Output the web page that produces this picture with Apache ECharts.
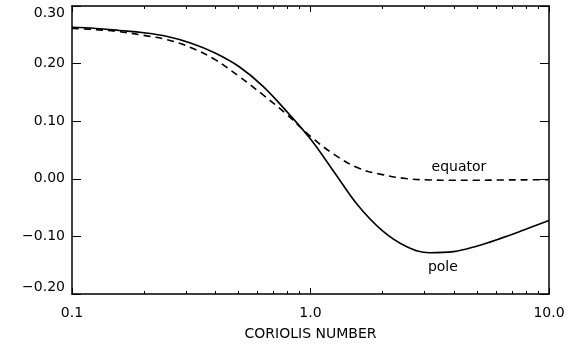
<!DOCTYPE html>
<html>
<head>
<meta charset="utf-8">
<script src="https://cdn.jsdelivr.net/npm/echarts@6/dist/echarts.min.js"></script>
<style>
  html, body { margin: 0; padding: 0; background: #fff; }
  #chart { width: 576px; height: 346px; }
</style>
</head>
<body>
<div id="chart"></div>
<script>
// Coriolis number, sampled at ten points per decade (log scale)
const coriolis = [0.1, 0.126, 0.158, 0.2, 0.251, 0.316, 0.398, 0.501, 0.631, 0.794,
                  1.0, 1.26, 1.58, 2.0, 2.51, 3.16, 3.98, 5.01, 6.31, 7.94, 10.0];
// Profile at the pole (solid)
const pole = [0.263, 0.261, 0.2575, 0.2535, 0.247, 0.2355, 0.2185, 0.195, 0.161, 0.117,
              0.069, 0.011, -0.046, -0.090, -0.117, -0.1285, -0.1265, -0.1165, -0.103, -0.088, -0.0725];
// Profile at the equator (dashed)
const equator = [0.261, 0.259, 0.2555, 0.249, 0.2415, 0.2275, 0.207, 0.178, 0.146, 0.112,
                 0.0736, 0.042, 0.019, 0.0073, 0.0005, -0.002, -0.0025, -0.0025, -0.002, -0.0018, -0.0015];

// Axis ticks
const xMajorTicks = [0.1, 1, 10];
const xMinorTicks = [0.2, 0.3, 0.4, 0.5, 0.6, 0.7, 0.8, 0.9, 2, 3, 4, 5, 6, 7, 8, 9];
const xTitle = 'CORIOLIS NUMBER';
const seriesNames = ['pole', 'equator'];

const font = 'DejaVu Sans';
const black = '#000';

function pairs(xs, ys) { return xs.map((x, i) => [x, ys[i]]); }
function fmtY(v) {
  const s = Math.abs(v).toFixed(2);
  return (v < -1e-9 ? '\u2212' : '') + s;
}

function logAxis(position, ticks, tickLen, showLine, showLabels) {
  return {
    type: 'log', logBase: 10, min: 0.1, max: 10, position: position,
    axisLine: { show: showLine, onZero: false, lineStyle: { color: black, width: 1.5 } },
    axisTick: { show: true, inside: true, length: tickLen, customValues: ticks, lineStyle: { color: black, width: 1 } },
    axisLabel: showLabels ? {
      show: true, customValues: xMajorTicks, margin: 12, color: black, fontFamily: font, fontSize: 14,
      formatter: v => Number(v).toFixed(1)
    } : { show: false },
    splitLine: { show: false },
    minorTick: { show: false }
  };
}

const xAxes = [
  Object.assign(logAxis('bottom', xMajorTicks, 6, true, true), {
    name: xTitle, nameLocation: 'middle', nameGap: 33,
    nameTextStyle: { color: black, fontFamily: font, fontSize: 14 }
  }),
  logAxis('bottom', xMinorTicks, 3, false, false),
  logAxis('top', xMajorTicks, 6, true, false),
  logAxis('top', xMinorTicks, 3, false, false)
];

function valueAxis(position, showLabels) {
  return {
    type: 'value', min: -0.2, max: 0.3, interval: 0.1, position: position,
    axisLine: { show: true, onZero: false, lineStyle: { color: black, width: 1.5 } },
    axisTick: { show: true, inside: true, length: 9, lineStyle: { color: black, width: 1 } },
    axisLabel: showLabels ? {
      show: true, margin: 7, color: black, fontFamily: font, fontSize: 14,
      formatter: fmtY, verticalAlignMaxLabel: 'top', verticalAlignMinLabel: 'bottom'
    } : { show: false },
    splitLine: { show: false }
  };
}

const chart = echarts.init(document.getElementById('chart'), null, { renderer: 'canvas' });
chart.setOption({
  animation: false,
  backgroundColor: '#fff',
  grid: { left: 72, right: 27, top: 6, bottom: 52, containLabel: false },
  xAxis: xAxes,
  yAxis: [valueAxis('left', true), valueAxis('right', false)],
  series: [
    {
      name: seriesNames[0], type: 'line', xAxisIndex: 0, yAxisIndex: 0,
      data: pairs(coriolis, pole), smooth: 0.4, showSymbol: false,
      lineStyle: { color: black, width: 1.6, type: 'solid' },
      markPoint: {
        symbol: 'circle', symbolSize: 0,
        label: { show: true, position: 'inside', formatter: seriesNames[0], color: black, fontFamily: font, fontSize: 14 },
        data: [{ coord: [3.59, -0.153] }]
      }
    },
    {
      name: seriesNames[1], type: 'line', xAxisIndex: 0, yAxisIndex: 0,
      data: pairs(coriolis, equator), smooth: 0.4, showSymbol: false,
      lineStyle: { color: black, width: 1.6, type: [7, 5] },
      markPoint: {
        symbol: 'circle', symbolSize: 0,
        label: { show: true, position: 'inside', formatter: seriesNames[1], color: black, fontFamily: font, fontSize: 14 },
        data: [{ coord: [4.19, 0.019] }]
      }
    }
  ]
});
</script>
</body>
</html>
